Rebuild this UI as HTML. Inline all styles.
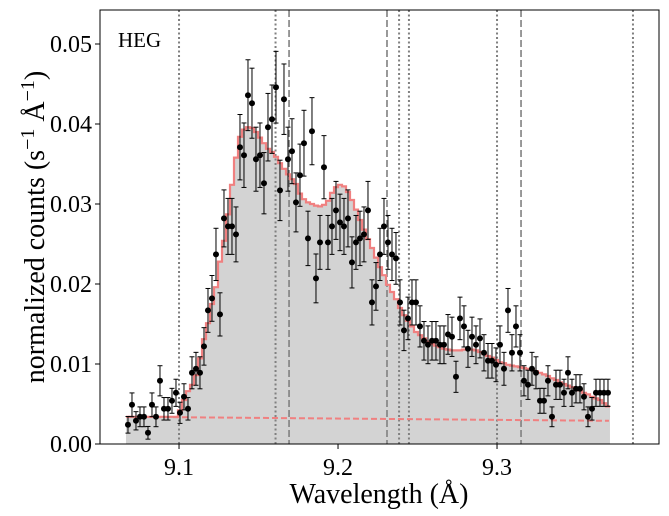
<!DOCTYPE html>
<html><head><meta charset="utf-8"><style>
html,body{margin:0;padding:0;background:#fff;}
svg{display:block;font-family:"Liberation Serif",serif;}
</style></head><body>
<svg id="chart" width="669" height="516" viewBox="0 0 669 516" xmlns="http://www.w3.org/2000/svg">
<rect x="0" y="0" width="669" height="516" fill="#fff"/>
<g id="plot"></g>
<text x="118" y="47" font-size="21">HEG</text>
<text x="379" y="503" font-size="28" text-anchor="middle">Wavelength (Å)</text>
<text transform="translate(44,227) rotate(-90)" font-size="28" text-anchor="middle">normalized counts (s<tspan dy="-10" font-size="20">−1</tspan><tspan dy="10"> Å</tspan><tspan dy="-10" font-size="20">−1</tspan><tspan dy="10">)</tspan></text>
</svg>
<script>
const lam0 = 9.0679;
const dlam = 0.0025157;
const counts = [.0024,.0049,.0029,.0034,.0034,.0014,.0049,.0034,.0079,.0044,
.0044,.0054,.0064,.0039,.0059,.0044,.0089,.0094,.0089,.0122,
.0167,.0182,.0237,.0162,.0282,.0272,.0272,.0262,.0371,.0361,
.0436,.0426,.0356,.0361,.0326,.0396,.0406,.0446,.0317,.0431,
.0356,.0366,.0302,.0336,.0376,.0257,.0391,.0207,.0252,.0346,
.0252,.0272,.0292,.0277,.0272,.0282,.0227,.0252,.0257,.0262,
.0292,.0177,.0197,.0237,.0272,.0252,.0237,.0232,.0177,.0142,
.0157,.0177,.0177,.0147,.0129,.0124,.0129,.0129,.0124,.0124,
.0137,.0134,.0084,.0157,.0147,.0119,.0134,.0124,.0132,.0114,
.0104,.0104,.0099,.0124,.0094,.0167,.0114,.0147,.0114,.0079,
.0074,.0094,.0089,.0054,.0054,.0079,.0034,.0074,.0074,.0064,
.0089,.0064,.0069,.0069,.0059,.0034,.0044,.0064,.0064,.0064,.0064];
const model = [.0034,.0034,.0034,.0034,.0034,.0034,.0034,.0034,.0034,.0034,
.0034,.0034,.0034,.0042,.0055,.0066,.0074,.0086,.0107,.0131,
.0151,.0175,.0196,.0228,.0254,.0287,.0324,.0358,.0384,.0393,
.0396,.0395,.039,.0383,.0376,.0369,.0365,.0359,.0351,.0344,
.0337,.0331,.0325,.0313,.0306,.0302,.03,.0298,.0297,.0299,
.0304,.0314,.0321,.0324,.0322,.0315,.0305,.0293,.028,.0268,
.0256,.0245,.0233,.0221,.0211,.0199,.019,.0181,.017,.0161,
.0154,.0147,.014,.0136,.0132,.0128,.0125,.0123,.0121,.0119,
.0118,.0117,.0117,.0117,.0118,.0119,.0118,.0117,.0115,.0113,
.011,.0108,.0105,.0102,.0101,.0099,.0098,.0097,.0096,.0095,
.0094,.0093,.0091,.0089,.0087,.0085,.0082,.008,.0077,.0075,
.0073,.0071,.0069,.0067,.0064,.0062,.0059,.0057,.0055,.0051,.0047];
const bgLam = [9.0679, 9.3704];
const bgVal = [0.0034, 0.0029];
const dottedLines = [9.1, 9.1607, 9.2384, 9.2446, 9.3, 9.3855];
const dashedLines = [9.1692, 9.2308, 9.3151];
const xTicks = [9.1, 9.2, 9.3];
const xTickLabels = ["9.1","9.2","9.3"];
const yTicks = [0,0.01,0.02,0.03,0.04,0.05];
const yTickLabels = ["0.00","0.01","0.02","0.03","0.04","0.05"];

const L=100,R=659,T=10,B=444;
const xMin=9.0503, xMax=9.0503+(R-L)/1590;
const yMin=0, yMax=(B-T)/8000;
const X=v=>L+(v-xMin)/(xMax-xMin)*(R-L);
const Y=v=>B-(v-yMin)/(yMax-yMin)*(B-T);
const NS="http://www.w3.org/2000/svg";
const g=document.getElementById('plot');
function mk(tag,attrs,parent){const e=document.createElementNS(NS,tag);for(const k in attrs)e.setAttribute(k,attrs[k]);(parent||g).appendChild(e);return e;}

let d='';
model.forEach((m,i)=>{
  const lam=lam0+i*dlam, x0=X(lam-dlam/2), x1=X(lam+dlam/2), y=Y(m);
  d += (i===0?'M':'L')+x0.toFixed(1)+','+y.toFixed(1)+'L'+x1.toFixed(1)+','+y.toFixed(1);
});
const xs=X(lam0-dlam/2), xe=X(lam0+(model.length-1)*dlam+dlam/2);
const fill=mk('path',{d:'M'+xs+','+Y(0)+d.replace(/^M/,'L')+'L'+xe+','+Y(0)+'Z',fill:'#d3d3d3',stroke:'none'});



dottedLines.forEach(v=>{const l=mk('line',{x1:X(v),x2:X(v),y1:T,y2:B,stroke:'#808080','stroke-width':2,'stroke-dasharray':'2,2.5'});

});
dashedLines.forEach(v=>{const l=mk('line',{x1:X(v),x2:X(v),y1:T,y2:B,stroke:'#808080','stroke-width':1.6,'stroke-dasharray':'7,3'});

});

const bg=mk('line',{x1:X(bgLam[0]),y1:Y(bgVal[0]),x2:X(bgLam[1]),y2:Y(bgVal[1]),stroke:'#f08080','stroke-width':2,'stroke-dasharray':'6,3'});



const mp=mk('path',{d:d,fill:'none',stroke:'#f08080','stroke-width':2.2});



counts.forEach((c,i)=>{
  const lam=lam0+i*dlam, x=X(lam), e=Math.sqrt(c*0.00045);
  const eg=mk('g',{stroke:'#000','stroke-width':1});
  
  
  mk('line',{x1:x,x2:x,y1:Y(c-e),y2:Y(c+e)},eg);
  mk('line',{x1:x-2.5,x2:x+2.5,y1:Y(c-e),y2:Y(c-e)},eg);
  mk('line',{x1:x-2.5,x2:x+2.5,y1:Y(c+e),y2:Y(c+e)},eg);
  const p=mk('circle',{cx:x,cy:Y(c),r:3,fill:'#000'});
  
  
});

const fr=mk('rect',{x:L,y:T,width:R-L,height:B-T,fill:'none',stroke:'#000','stroke-width':1});



xTicks.forEach((v,i)=>{
  const t=mk('line',{x1:X(v),x2:X(v),y1:B,y2:B+5,stroke:'#000'});
  
  
  const tx=mk('text',{x:X(v),y:B+31,'font-size':24,'text-anchor':'middle'});
  tx.textContent=xTickLabels[i];
  
  
});
yTicks.forEach((v,i)=>{
  const t=mk('line',{x1:L-5,x2:L,y1:Y(v),y2:Y(v),stroke:'#000'});
  
  
  const tx=mk('text',{x:L-8,y:Y(v)+8,'font-size':24,'text-anchor':'end'});
  tx.textContent=yTickLabels[i];
  
  
});
</script>
</body></html>
